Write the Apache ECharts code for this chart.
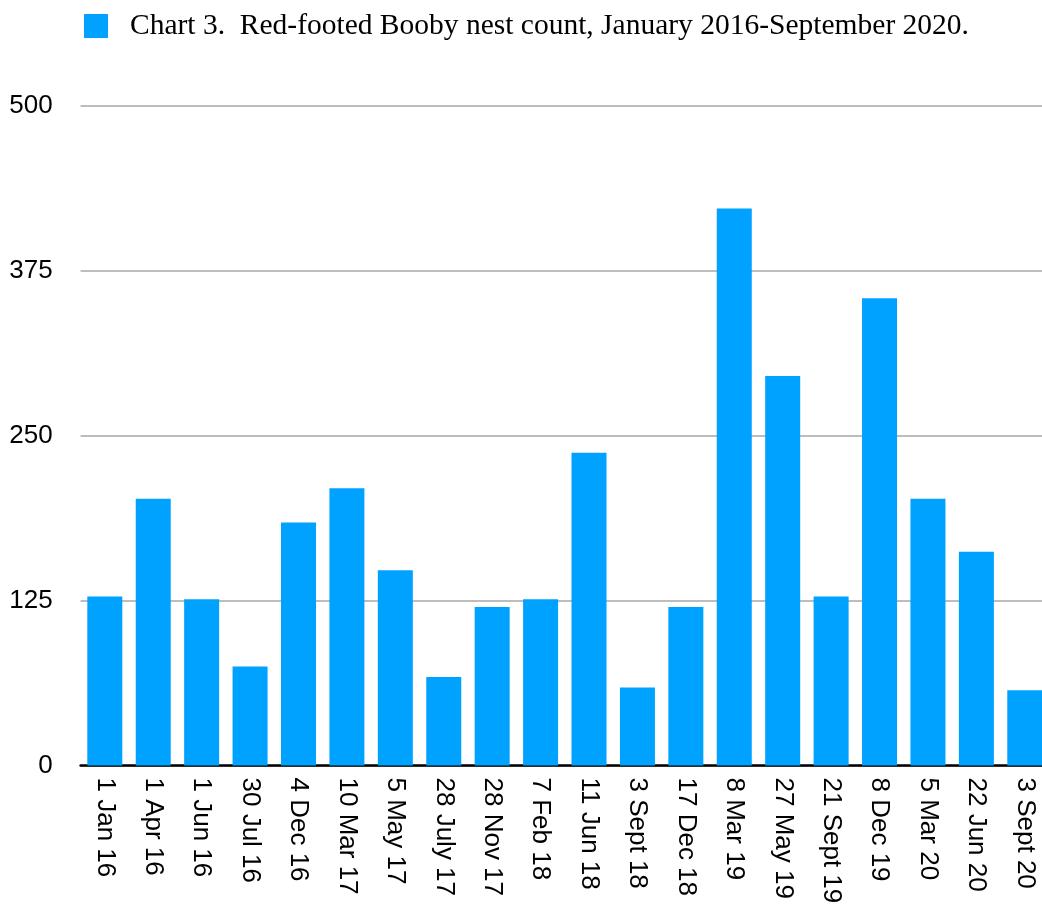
<!DOCTYPE html>
<html>
<head>
<meta charset="utf-8">
<script src="https://cdn.jsdelivr.net/npm/echarts@6/dist/echarts.min.js"></script>
<style>
html,body{margin:0;padding:0;background:#fff;}
#c{width:1042px;height:905px;}
</style>
</head>
<body>
<div id="c"></div>
<script>
const categories = ["1 Jan 16","1 Apr 16","1 Jun 16","30 Jul 16","4 Dec 16","10 Mar 17","5 May 17","28 July 17","28 Nov 17","7 Feb 18","11 Jun 18","3 Sept 18","17 Dec 18","8 Mar 19","27 May 19","21 Sept 19","8 Dec 19","5 Mar 20","22 Jun 20","3 Sept 20"];
const nestCounts = [128,202,126,75,184,210,148,67,120,126,237,59,120,422,295,128,354,202,162,57];
const yTicks = [0,125,250,375,500];
const seriesName = "Chart 3.  Red-footed Booby nest count, January 2016-September 2020.";

const chart = echarts.init(document.getElementById('c'));
chart.setOption({
  animation: false,
  backgroundColor: '#ffffff',
  legend: {
    left: 84, top: 11, padding: 0,
    itemWidth: 24, itemHeight: 24,
    icon: 'rect',
    data: [seriesName],
    textStyle: { fontFamily: 'Liberation Serif', fontSize: 29.5, color: '#000', padding: [0,0,0,17] }
  },
  grid: { left: 80.6, width: 968.4, top: 105.5, bottom: 139.5, containLabel: false, outerBoundsMode: 'none' },
  xAxis: {
    type: 'category',
    data: categories,
    axisLine: { show: true, lineStyle: { color: '#000', width: 2.5 } },
    axisTick: { show: false },
    axisLabel: { rotate: -90, interval: 0, margin: 12, fontFamily: 'Liberation Sans', fontSize: 26, color: '#000' }
  },
  yAxis: {
    type: 'value',
    min: 0, max: 500, interval: 125,
    axisLine: { show: false },
    axisTick: { show: false },
    axisLabel: { margin: 28, fontFamily: 'Liberation Sans', fontSize: 26, color: '#000',
      formatter: v => yTicks.includes(v) ? String(v) : '' },
    splitLine: { lineStyle: { color: '#bdbdbd', width: 2 } }
  },
  series: [{
    name: seriesName,
    type: 'bar',
    data: nestCounts,
    barWidth: 35,
    itemStyle: { color: '#00A2FF' }
  }]
});
</script>
</body>
</html>
